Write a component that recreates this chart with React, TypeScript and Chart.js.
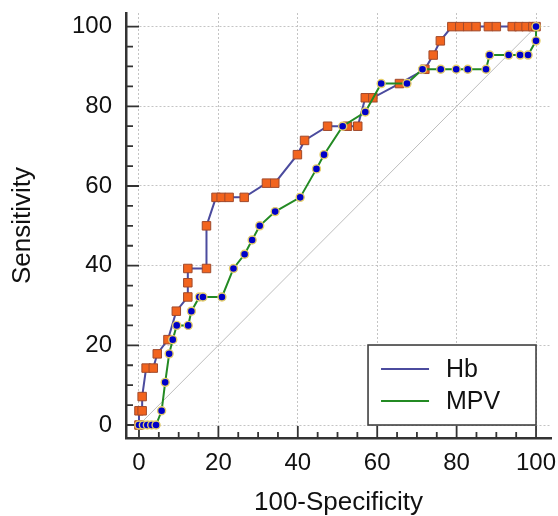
import React, { useEffect, useRef } from "react";
import { Chart, registerables } from "chart.js";

Chart.register(...registerables);

// ROC curve data (100-Specificity, Sensitivity)
const hbFpr = [0, 0, 0.8, 0.8, 1.8, 3.6, 4.6, 7.3, 9.4, 12.3, 12.3, 12.3, 17.0, 17.0, 19.4, 20.7, 22.7, 26.5, 32.1, 34.2, 39.9, 41.7, 47.5, 52.5, 55.1, 57.0, 58.9, 65.6, 72.0, 74.1, 75.9, 78.8, 80.8, 82.8, 84.9, 88.0, 90.0, 94.0, 95.7, 97.5, 99.2, 100];
const hbTpr = [0, 3.57, 3.57, 7.14, 14.29, 14.29, 17.86, 21.43, 28.57, 32.14, 35.71, 39.29, 39.29, 50, 57.14, 57.14, 57.14, 57.14, 60.71, 60.71, 67.86, 71.43, 75, 75, 75, 82.14, 82.14, 85.71, 89.29, 92.86, 96.43, 100, 100, 100, 100, 100, 100, 100, 100, 100, 100, 100];

const mpvFpr = [0, 1.1, 2.1, 3.2, 4.3, 5.7, 6.6, 7.6, 8.5, 9.5, 12.4, 13.2, 15.2, 16.1, 20.9, 23.8, 26.6, 28.5, 30.4, 34.3, 40.6, 44.7, 46.6, 51.3, 57.0, 61.0, 67.5, 71.4, 76.0, 79.9, 82.8, 87.4, 88.3, 93.1, 96.0, 98.0, 100, 100];
const mpvTpr = [0, 0, 0, 0, 0, 3.57, 10.71, 17.86, 21.43, 25, 25, 28.57, 32.14, 32.14, 32.14, 39.29, 42.86, 46.43, 50, 53.57, 57.14, 64.29, 67.86, 75, 78.57, 85.71, 85.71, 89.29, 89.29, 89.29, 89.29, 89.29, 92.86, 92.86, 92.86, 92.86, 96.43, 100];

const refX = [0, 100];
const refY = [0, 100];

const tickValues = [0, 20, 40, 60, 80, 100];
const minorStep = 5;

const seriesNames = ["Hb", "MPV"];
const xTitle = "100-Specificity";
const yTitle = "Sensitivity";

const FONT = "'Liberation Sans', Arial, sans-serif";
const HB_COLOR = "#4b4b9e";
const MPV_COLOR = "#238a23";

const toPts = (xs: number[], ys: number[]) => xs.map((x, i) => ({ x, y: ys[i] }));

const axisTicksPlugin = {
  id: "axisTicks",
  beforeDatasetsDraw(chart: any) {
    const { ctx, chartArea, scales } = chart;
    const xs = scales.x;
    const ys = scales.y;
    ctx.save();
    ctx.strokeStyle = "#333333";
    ctx.lineWidth = 1.8;
    ctx.beginPath();
    for (let v = 0; v <= 100; v += minorStep) {
      const major = v % 20 === 0;
      const px = xs.getPixelForValue(v);
      ctx.moveTo(px, chartArea.bottom);
      ctx.lineTo(px, chartArea.bottom - (major ? 12 : 6));
      const py = ys.getPixelForValue(v);
      ctx.moveTo(chartArea.left, py);
      ctx.lineTo(chartArea.left + (major ? 13 : 7), py);
    }
    ctx.stroke();
    ctx.restore();
  },
};

const boxLegendPlugin = {
  id: "boxLegend",
  afterDraw(chart: any) {
    const { ctx, scales } = chart;
    const right = scales.x.getPixelForValue(100);
    const bottom = scales.y.getPixelForValue(0);
    const w = 168;
    const h = 80;
    const left = right - w;
    const top = bottom - h;
    ctx.save();
    ctx.fillStyle = "#ffffff";
    ctx.fillRect(left, top, w, h);
    ctx.strokeStyle = "#404040";
    ctx.lineWidth = 1.6;
    ctx.strokeRect(left, top, w, h);
    const legendDs = chart.data.datasets.filter((d: any) => seriesNames.includes(d.label));
    const ordered = seriesNames.map((n) => legendDs.find((d: any) => d.label === n));
    ordered.forEach((ds: any, i: number) => {
      const y = top + 24 + i * 32;
      ctx.strokeStyle = ds.borderColor;
      ctx.lineWidth = 2;
      ctx.beginPath();
      ctx.moveTo(left + 13, y);
      ctx.lineTo(left + 61, y);
      ctx.stroke();
      ctx.fillStyle = "#111111";
      ctx.font = `25px ${FONT}`;
      ctx.textBaseline = "middle";
      ctx.textAlign = "left";
      ctx.fillText(ds.label, left + 78, y + 1);
    });
    ctx.restore();
  },
};

export default function App() {
  const ref = useRef<HTMLCanvasElement | null>(null);

  useEffect(() => {
    if (!ref.current) return;
    const chart = new Chart(ref.current, {
      type: "line",
      data: {
        datasets: [
          {
            label: "MPV",
            data: toPts(mpvFpr, mpvTpr),
            borderColor: MPV_COLOR,
            borderWidth: 2,
            pointStyle: "circle",
            pointRadius: 4,
            pointBackgroundColor: "#0000c8",
            pointBorderColor: "#e6cf6a",
            pointBorderWidth: 1.4,
            fill: false,
            tension: 0,
            order: 0,
          },
          {
            label: "Hb",
            data: toPts(hbFpr, hbTpr),
            borderColor: HB_COLOR,
            borderWidth: 2,
            pointStyle: "rect",
            pointRadius: 6,
            pointBackgroundColor: "#f2641e",
            pointBorderColor: "#a04a2c",
            pointBorderWidth: 1,
            fill: false,
            tension: 0,
            order: 1,
          },
          {
            label: "ref",
            data: toPts(refX, refY),
            borderColor: "#bdbdbd",
            borderWidth: 1,
            pointRadius: 0,
            fill: false,
            order: 2,
          },
        ],
      },
      options: {
        responsive: false,
        animation: false,
        events: [],
        layout: { padding: { top: 13, right: 6, left: 0, bottom: 0 } },
        plugins: {
          legend: { display: false },
          tooltip: { enabled: false },
        },
        scales: {
          x: {
            type: "linear",
            min: -3.27,
            max: 103.77,
            afterBuildTicks: (s: any) => {
              s.ticks = tickValues.map((v) => ({ value: v }));
            },
            afterFit: (s: any) => {
              s.height = 78;
              s.paddingLeft = 0;
              s.paddingRight = 0;
            },
            grid: { color: "#c4c4c4", lineWidth: 1, drawTicks: false },
            border: { display: true, color: "#333333", width: 2.5, dash: [2, 2] },
            ticks: {
              padding: 11,
              color: "#111111",
              font: { family: FONT, size: 24 },
              maxRotation: 0,
              autoSkip: false,
            },
            title: {
              display: true,
              text: xTitle,
              color: "#111111",
              font: { family: FONT, size: 26, lineHeight: 1 },
              padding: { top: 0, bottom: 0 },
            },
          },
          y: {
            type: "linear",
            min: -3.26,
            max: 103.42,
            afterBuildTicks: (s: any) => {
              s.ticks = tickValues.map((v) => ({ value: v }));
            },
            afterFit: (s: any) => {
              s.width = 126;
              s.paddingTop = 0;
              s.paddingBottom = 0;
            },
            grid: { color: "#c4c4c4", lineWidth: 1, drawTicks: false },
            border: { display: true, color: "#333333", width: 2.5, dash: [2, 2] },
            ticks: {
              padding: 14,
              color: "#111111",
              font: { family: FONT, size: 24 },
              autoSkip: false,
            },
            title: {
              display: true,
              text: yTitle,
              color: "#111111",
              font: { family: FONT, size: 26, lineHeight: 1 },
              padding: { top: 10, bottom: 0 },
            },
          },
        },
      },
      plugins: [axisTicksPlugin, boxLegendPlugin],
    } as any);
    return () => chart.destroy();
  }, []);

  return (
    <div style={{ position: "absolute", left: 0, top: 0, width: 558, height: 516, background: "#fff" }}>
      <canvas ref={ref} width={558} height={516} style={{ display: "block" }} />
    </div>
  );
}
